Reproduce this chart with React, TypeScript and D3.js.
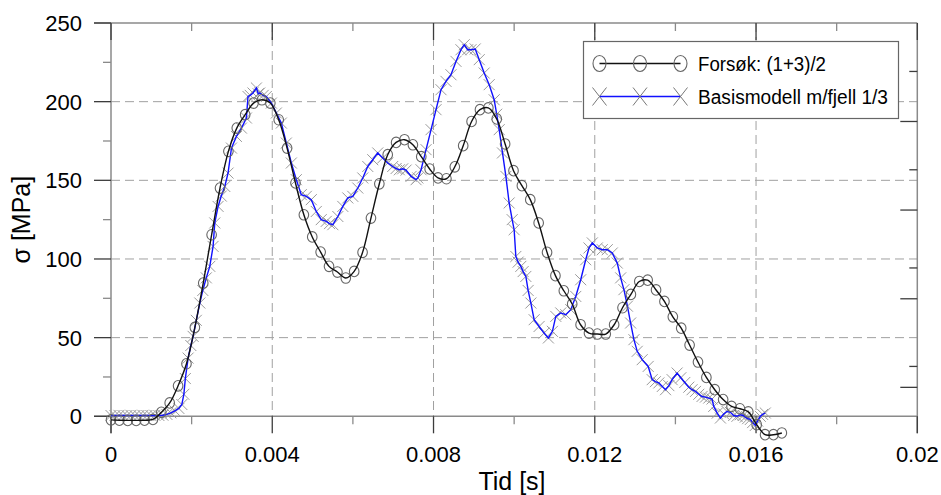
import { useEffect, useRef } from "react";
import * as d3 from "d3";

// Forsøk (1+3)/2, sampled every ~0.208 ms
const forsokStep = 0.000208;
const forsokValues = [
  -2.3, -2.5, -2.6, -2.6, -2.5, -2.0, 2.5, 8.5, 19.4, 33.4, 56.5, 84.7, 115.4,
  145.1, 168.4, 183.2, 191.7, 199.1, 201.2, 199.1, 188.5, 170.5, 148.3, 128.1,
  114, 104.4, 95.3, 91.7, 87.9, 92.1, 104.2, 126, 147.8, 166.3, 174.1, 175.8,
  172.6, 165, 157.2, 151.5, 151, 158.6, 172, 187.4, 194.9, 196, 189, 173.1,
  156.1, 146.6, 137.7, 122.9, 104.2, 89.4, 79.8, 71.4, 58.2, 52.9, 52.3, 52.3,
  58.2, 69, 77.5, 85.7, 86.5, 80.3, 73, 63.2, 56, 45.3, 34.5, 24.7, 16.9, 10.6,
  6.3, 4.8, 2.8, -5.3, -11.7, -11.7, -10.6,
];

// Basismodell m/fjell 1/3 (time in ms)
const basisTimeMs = [
  0, 0.099, 0.198, 0.297, 0.396, 0.495, 0.594, 0.693, 0.792, 0.891, 0.99,
  1.089, 1.188, 1.287, 1.386, 1.485, 1.584, 1.683, 1.757, 1.807, 1.844, 1.913,
  1.98, 2.037, 2.116, 2.203, 2.277, 2.364, 2.45, 2.532, 2.574, 2.656, 2.735,
  2.822, 2.903, 2.988, 3.111, 3.235, 3.359, 3.398, 3.453, 3.522, 3.607, 3.651,
  3.688, 3.775, 3.854, 3.978, 4.102, 4.225, 4.349, 4.473, 4.597, 4.72, 4.844,
  4.968, 5.092, 5.215, 5.339, 5.421, 5.503, 5.627, 5.75, 5.874, 5.998, 6.121,
  6.245, 6.369, 6.493, 6.616, 6.74, 6.864, 6.988, 7.072, 7.153, 7.235, 7.319,
  7.443, 7.567, 7.611, 7.691, 7.815, 7.939, 8.062, 8.186, 8.309, 8.433, 8.557,
  8.681, 8.762, 8.846, 8.928, 9.035, 9.134, 9.257, 9.381, 9.505, 9.567, 9.629,
  9.711, 9.795, 9.876, 9.951, 10.0, 10.042, 10.099, 10.166, 10.223, 10.29,
  10.347, 10.415, 10.496, 10.619, 10.743, 10.85, 10.949, 11.033, 11.156, 11.28,
  11.404, 11.528, 11.651, 11.775, 11.857, 11.939, 12.063, 12.186, 12.31, 12.434,
  12.558, 12.642, 12.723, 12.81, 12.889, 12.971, 13.053, 13.176, 13.325, 13.424,
  13.503, 13.589, 13.676, 13.755, 13.837, 13.919, 14.042, 14.134, 14.233,
  14.332, 14.413, 14.498, 14.58, 14.661, 14.745, 14.827, 14.909, 14.951, 15.037,
  15.117, 15.198, 15.28, 15.364, 15.446, 15.527, 15.611, 15.68, 15.734, 15.792,
  15.859, 15.916, 15.982, 16.04, 16.106, 16.163, 16.23,
];
const basisValues = [
  0.5, 0.5, 0.6, 0.5, 0.5, 0.6, 0.5, 0.5, 0.6, 0.5, 0.5, 0.6, 0.5, 0.7, 1.2,
  2.2, 3.5, 5, 7.5, 14, 24, 37, 45, 50.8, 61, 72, 80, 88, 95.3, 108, 122.9,
  133.4, 140, 146.1, 154.6, 170.5, 177.9, 183.2, 189.6, 203.3, 204, 205.5,
  208.7, 205, 205.5, 204, 203.3, 199.1, 192.8, 186.4, 173.7, 161, 150.4, 140.9,
  139.8, 137.7, 130.2, 125, 123.9, 122.5, 121.8, 127, 133.4, 138.8, 139.8,
  145.1, 151.5, 158.8, 163.1, 167.4, 164.2, 161, 158.8, 157.5, 156.7, 157.3,
  156.5, 152.5, 150.4, 151.5, 156.7, 169.5, 182.2, 194.9, 207.6, 212.9, 217.1,
  225.6, 233, 236.2, 233, 233, 233.5, 226.7, 218.2, 210.8, 201.2, 192, 182.2,
  167.4, 152.5, 135.6, 125, 118.6, 101.6, 98, 95.3, 92, 88.9, 80, 72, 61.4,
  57.1, 52.9, 49.8, 54, 63.5, 65.7, 64.6, 67.8, 76.2, 86.8, 99.5, 107, 110.2,
  107, 105.9, 105.9, 103.8, 97.4, 88, 80.5, 70, 59.3, 48.7, 41.3, 36, 31.7,
  23.3, 22, 21.2, 19, 16.9, 19.5, 23.3, 27.5, 24.5, 21.5, 18.5, 16.9, 15.8, 14,
  12.6, 12.2, 11.6, 11, 6.3, 2, -1.1, 1.5, 3.1, 2.5, 0.5, 0, 1, 0.5, -0.5, -1.5,
  -2, -4, -5.8, -3, 0, 1.2, 2.1,
];

const xTicks = [0, 0.004, 0.008, 0.012, 0.016, 0.02];
const xMinorTicks = [0.002, 0.006, 0.01, 0.014, 0.018];
const yTicks = [0, 50, 100, 150, 200, 250];
const yMinorTicks = [25, 75, 125, 175, 225];
// unlabelled right-hand axis ticks (in MPa units of the left axis)
const rightMajorTicks = [18.4, 74.7, 131.1, 187.4];
const rightMinorTicks = [31.7, 94.3, 156.7, 219.2];

const legendLabels = ["Forsøk: (1+3)/2", "Basismodell m/fjell 1/3"];

const FONT = "'Liberation Sans', Arial, sans-serif";

const App = () => {
  const svgRef = useRef<SVGSVGElement | null>(null);

  useEffect(() => {
    const svg = d3.select(svgRef.current);
    svg.selectAll("*").remove();

    const left = 111;
    const right = 917.3;
    const top = 23;
    const bottom = 416.3;

    const x = d3.scaleLinear().domain([0, 0.02]).range([left, right]);
    const y = d3.scaleLinear().domain([0, 250]).range([bottom, top]);

    const frameColor = "#8a8a8a";
    const majorColor = "#3c3c3c";
    const minorColor = "#8a8a8a";

    // grid
    const grid = svg.append("g");
    grid
      .selectAll("line.gx")
      .data(xTicks.slice(1, -1))
      .enter()
      .append("line")
      .attr("x1", (d) => x(d))
      .attr("x2", (d) => x(d))
      .attr("y1", top)
      .attr("y2", bottom)
      .attr("stroke", "#a0a0a0")
      .attr("stroke-dasharray", "9,5");
    grid
      .selectAll("line.gy")
      .data(yTicks.slice(1, -1))
      .enter()
      .append("line")
      .attr("x1", left)
      .attr("x2", right)
      .attr("y1", (d) => y(d))
      .attr("y2", (d) => y(d))
      .attr("stroke", "#a0a0a0")
      .attr("stroke-dasharray", "9,5");

    // frame
    const frame = svg.append("g").attr("stroke", frameColor).attr("stroke-width", 1.5);
    frame.append("line").attr("x1", left - 17).attr("x2", right).attr("y1", top).attr("y2", top);
    frame.append("line").attr("x1", left - 17).attr("x2", right).attr("y1", bottom).attr("y2", bottom);
    frame.append("line").attr("x1", left).attr("x2", left).attr("y1", top).attr("y2", bottom + 17);
    frame.append("line").attr("x1", right).attr("x2", right).attr("y1", top).attr("y2", bottom + 17);

    const ticks = svg.append("g").attr("stroke-width", 1.3);
    // bottom (outward) and top (inward) x ticks
    xTicks.forEach((t) => {
      ticks.append("line").attr("x1", x(t)).attr("x2", x(t)).attr("y1", bottom).attr("y2", bottom + 17).attr("stroke", majorColor);
      ticks.append("line").attr("x1", x(t)).attr("x2", x(t)).attr("y1", top).attr("y2", top + 17).attr("stroke", majorColor);
    });
    xMinorTicks.forEach((t) => {
      ticks.append("line").attr("x1", x(t)).attr("x2", x(t)).attr("y1", bottom).attr("y2", bottom + 8).attr("stroke", minorColor);
      ticks.append("line").attr("x1", x(t)).attr("x2", x(t)).attr("y1", top).attr("y2", top + 8).attr("stroke", minorColor);
    });
    yTicks.forEach((t) => {
      ticks.append("line").attr("x1", left - 17).attr("x2", left).attr("y1", y(t)).attr("y2", y(t)).attr("stroke", majorColor);
    });
    yMinorTicks.forEach((t) => {
      ticks.append("line").attr("x1", left - 8).attr("x2", left).attr("y1", y(t)).attr("y2", y(t)).attr("stroke", minorColor);
    });
    rightMajorTicks.forEach((t) => {
      ticks.append("line").attr("x1", right - 17).attr("x2", right).attr("y1", y(t)).attr("y2", y(t)).attr("stroke", majorColor);
    });
    rightMinorTicks.forEach((t) => {
      ticks.append("line").attr("x1", right - 8).attr("x2", right).attr("y1", y(t)).attr("y2", y(t)).attr("stroke", majorColor);
    });

    // tick labels
    svg
      .append("g")
      .selectAll("text")
      .data(xTicks)
      .enter()
      .append("text")
      .attr("x", (d) => x(d))
      .attr("y", 462)
      .attr("text-anchor", "middle")
      .attr("font-family", FONT)
      .attr("font-size", 22)
      .text((d) => (d === 0 ? "0" : String(d)));
    svg
      .append("g")
      .selectAll("text")
      .data(yTicks)
      .enter()
      .append("text")
      .attr("x", 82)
      .attr("y", (d) => y(d) + 8)
      .attr("text-anchor", "end")
      .attr("font-family", FONT)
      .attr("font-size", 22)
      .text((d) => String(d));

    // axis titles
    svg
      .append("text")
      .attr("x", 512)
      .attr("y", 490)
      .attr("text-anchor", "middle")
      .attr("font-family", FONT)
      .attr("font-size", 25)
      .text("Tid [s]");
    svg
      .append("text")
      .attr("transform", `translate(30,${(top + bottom) / 2}) rotate(-90)`)
      .attr("text-anchor", "middle")
      .attr("font-family", FONT)
      .attr("font-size", 25)
      .text("σ [MPa]");

    const forsok = forsokValues.map((v, i) => ({ t: i * forsokStep, v }));
    const basis = basisValues.map((v, i) => ({ t: basisTimeMs[i] / 1000, v }));

    const xPath = "M-5.5,-5.5L5.5,5.5M-5.5,5.5L5.5,-5.5";

    // Basismodell: X markers + blue line
    svg
      .append("g")
      .selectAll("path")
      .data(basis)
      .enter()
      .append("path")
      .attr("d", xPath)
      .attr("transform", (d) => `translate(${x(d.t)},${y(d.v)})`)
      .attr("stroke", "#9a9a9a")
      .attr("stroke-width", 1)
      .attr("fill", "none");

    const lineBasis = d3
      .line<{ t: number; v: number }>()
      .x((d) => x(d.t))
      .y((d) => y(d.v));
    svg
      .append("path")
      .datum(basis)
      .attr("d", lineBasis)
      .attr("fill", "none")
      .attr("stroke", "#1010ff")
      .attr("stroke-width", 1.4);

    // Forsøk: circles + black smooth line
    svg
      .append("g")
      .selectAll("ellipse")
      .data(forsok)
      .enter()
      .append("ellipse")
      .attr("cx", (d) => x(d.t))
      .attr("cy", (d) => y(d.v))
      .attr("rx", 4.8)
      .attr("ry", 5.3)
      .attr("fill", "none")
      .attr("stroke", "#666")
      .attr("stroke-width", 1.1);

    const lineForsok = d3
      .line<{ t: number; v: number }>()
      .x((d) => x(d.t))
      .y((d) => y(d.v))
      .curve(d3.curveCatmullRom.alpha(0.5));
    svg
      .append("path")
      .datum(forsok)
      .attr("d", lineForsok)
      .attr("fill", "none")
      .attr("stroke", "#111")
      .attr("stroke-width", 1.4);

    // legend
    const lg = svg.append("g");
    lg.append("rect")
      .attr("x", 583.5)
      .attr("y", 41.5)
      .attr("width", 315)
      .attr("height", 77)
      .attr("fill", "#fff")
      .attr("stroke", "#666")
      .attr("stroke-width", 1.2);
    const markerX = [599.5, 640, 680.5];
    const rows = [63.5, 96.5];
    lg.append("line")
      .attr("x1", markerX[0]).attr("x2", markerX[2])
      .attr("y1", rows[0]).attr("y2", rows[0])
      .attr("stroke", "#111").attr("stroke-width", 1.4);
    markerX.forEach((mx) => {
      lg.append("ellipse")
        .attr("cx", mx).attr("cy", rows[0]).attr("rx", 6.5).attr("ry", 8)
        .attr("fill", "none").attr("stroke", "#666").attr("stroke-width", 1.1);
    });
    lg.append("line")
      .attr("x1", markerX[0]).attr("x2", markerX[2])
      .attr("y1", rows[1]).attr("y2", rows[1])
      .attr("stroke", "#1010ff").attr("stroke-width", 1.4);
    markerX.forEach((mx) => {
      lg.append("path")
        .attr("d", "M-7,-9L7,9M-7,9L7,-9")
        .attr("transform", `translate(${mx},${rows[1]})`)
        .attr("stroke", "#777").attr("stroke-width", 1).attr("fill", "none");
    });
    const widths = [128, 190];
    legendLabels.forEach((label, i) => {
      lg.append("text")
        .attr("x", 698)
        .attr("y", rows[i] + 7.5)
        .attr("font-family", FONT)
        .attr("font-size", 20)
        .attr("textLength", widths[i])
        .attr("lengthAdjust", "spacingAndGlyphs")
        .text(label);
    });
  });

  return (
    <div style={{ position: "fixed", left: 0, top: 0, background: "#fff" }}>
      <svg ref={svgRef} width={941} height={495} style={{ display: "block" }} />
    </div>
  );
};

export default App;
